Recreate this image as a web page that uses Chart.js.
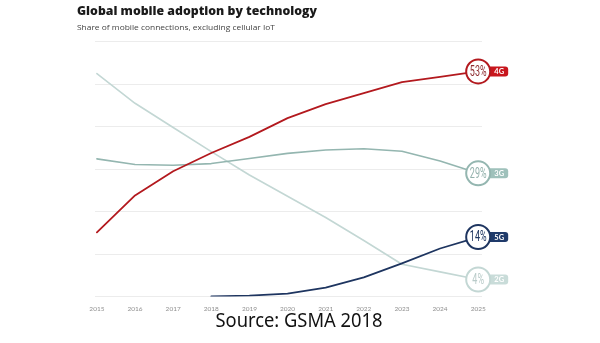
<!DOCTYPE html>
<html><head><meta charset="utf-8">
<script src="https://cdn.jsdelivr.net/npm/chart.js@4/dist/chart.umd.min.js"></script>
<style>html,body{margin:0;padding:0;background:#fff;}#wrap{width:600px;height:343px;}</style>
</head><body><div id="wrap"><canvas id="c" width="600" height="343"></canvas></div>
<script>
const years = [2015, 2016, 2017, 2018, 2019, 2020, 2021, 2022, 2023, 2024, 2025];
const tech = ['2G', '3G', '5G', '4G'];
const share2G = [52.5, 45.5, 39.8, 34.1, 28.6, 23.6, 18.6, 13.2, 7.6, 5.8, 4];
const share3G = [32.4, 31.1, 30.9, 31.3, 32.5, 33.7, 34.5, 34.8, 34.2, 31.9, 29];
const share5G = [null, null, null, 0, 0.2, 0.7, 2.1, 4.5, 7.8, 11.3, 14];
const share4G = [15.1, 23.8, 29.5, 33.8, 37.6, 42.0, 45.3, 47.9, 50.5, 51.7, 53];
const yTicks = [0, 10, 20, 30, 40, 50, 60];

const titleText = 'Global mobile adoption by technology';
const subtitleText = 'Share of mobile connections, excluding cellular IoT';
const sourceText = 'Source: GSMA 2018';

const styles = {
  '2G': {line: '#c3d7d4', tag: '#c9dcd9', text: '#b9cbc9', w: 1.6},
  '3G': {line: '#94b6b0', tag: '#9fc1bb', text: '#93b1ac', w: 1.6},
  '5G': {line: '#1e3560', tag: '#1f3a6a', text: '#1e3560', w: 1.8},
  '4G': {line: '#b3191e', tag: '#c8161d', text: '#8e2c30', w: 1.8}
};
const series = [share2G, share3G, share5G, share4G];

const datasets = series.map((arr, i) => ({
  label: tech[i],
  data: years.map((yr, j) => ({x: yr, y: arr[j]})),
  borderColor: styles[tech[i]].line,
  borderWidth: styles[tech[i]].w,
  pointRadius: 0,
  tension: 0,
  fill: false,
  spanGaps: false,
  borderJoinStyle: 'round',
  borderCapStyle: 'round',
  order: series.length - i
}));

const decor = {
  id: 'decor',
  beforeDraw(chart) {
    const ctx = chart.ctx;
    ctx.save();
    ctx.fillStyle = '#fff';
    ctx.fillRect(0, 0, chart.width, chart.height);
    ctx.restore();
  },
  afterDatasetsDraw(chart) {
    const ctx = chart.ctx;
    chart.data.datasets.forEach((ds, i) => {
      const meta = chart.getDatasetMeta(i);
      const pts = meta.data;
      const p = pts[pts.length - 1];
      const st = styles[ds.label];
      const val = ds.data[ds.data.length - 1].y;
      const r = 12;
      ctx.save();
      const tx0 = p.x + 4, tx1 = p.x + 30, th = 10;
      ctx.fillStyle = st.tag;
      ctx.beginPath();
      ctx.roundRect(tx0, p.y - th / 2, tx1 - tx0, th, 3);
      ctx.fill();
      ctx.fillStyle = '#fff';
      ctx.font = 'bold 7.5px "Lato", "DejaVu Sans", sans-serif';
      ctx.textAlign = 'center';
      ctx.textBaseline = 'middle';
      ctx.fillText(ds.label, p.x + 21, p.y + 0.5);
      ctx.beginPath();
      ctx.arc(p.x, p.y, r, 0, Math.PI * 2);
      ctx.fillStyle = '#fff';
      ctx.fill();
      ctx.lineWidth = 2;
      ctx.strokeStyle = st.line;
      ctx.stroke();
      ctx.translate(p.x, p.y);
      ctx.scale(0.6, 1);
      ctx.fillStyle = st.text;
      ctx.font = '15px "Roboto", "DejaVu Sans", sans-serif';
      ctx.textAlign = 'center';
      ctx.textBaseline = 'middle';
      ctx.fillText(Math.round(val) + '%', 0, 0.5);
      ctx.restore();
    });
  },
  afterDraw(chart) {
    const ctx = chart.ctx;
    ctx.save();
    ctx.textAlign = 'left';
    ctx.textBaseline = 'alphabetic';
    ctx.fillStyle = '#1a1a1a';
    ctx.font = '800 13px "Open Sans", "DejaVu Sans", sans-serif';
    let w = ctx.measureText(titleText).width;
    ctx.save();
    ctx.translate(77, 15);
    ctx.scale(240 / w, 1);
    ctx.fillText(titleText, 0, 0);
    ctx.restore();
    ctx.fillStyle = '#444';
    ctx.font = '7.5px "Open Sans", "DejaVu Sans", sans-serif';
    w = ctx.measureText(subtitleText).width;
    ctx.save();
    ctx.translate(77, 30);
    ctx.scale(198 / w, 1);
    ctx.fillText(subtitleText, 0, 0);
    ctx.restore();
    ctx.fillStyle = '#111';
    ctx.font = '20px "Noto Sans", "DejaVu Sans", sans-serif';
    w = ctx.measureText(sourceText).width;
    ctx.save();
    ctx.translate(299, 327);
    ctx.scale(167 / w, 1);
    ctx.textAlign = 'center';
    ctx.fillText(sourceText, 0, 0);
    ctx.restore();
    ctx.restore();
  }
};

new Chart(document.getElementById('c'), {
  type: 'line',
  data: {datasets},
  options: {
    responsive: false,
    animation: false,
    devicePixelRatio: 1,
    layout: {padding: {left: 95, right: 118, top: 41.7, bottom: 26.5}},
    plugins: {legend: {display: false}, tooltip: {enabled: false}, title: {display: false}},
    scales: {
      x: {
        type: 'linear',
        min: 2014.95,
        max: 2025.1,
        afterBuildTicks: s => { s.ticks = years.map(v => ({value: v})); },
        ticks: {
          stepSize: 1,
          autoSkip: false,
          maxRotation: 0,
          padding: 9,
          color: '#8f8f8f',
          font: {family: 'Lato', size: 6.5},
          callback: v => String(v)
        },
        grid: {display: false, drawTicks: false},
        border: {display: false},
        afterFit: s => { s.height = 20; }
      },
      y: {
        min: yTicks[0],
        max: yTicks[yTicks.length - 1],
        afterBuildTicks: s => { s.ticks = yTicks.map(v => ({value: v})); },
        ticks: {display: false},
        grid: {color: '#ececec', lineWidth: 1, drawTicks: false},
        border: {display: false},
        afterFit: s => { s.width = 0; }
      }
    }
  },
  plugins: [decor]
});
</script>
</body></html>
